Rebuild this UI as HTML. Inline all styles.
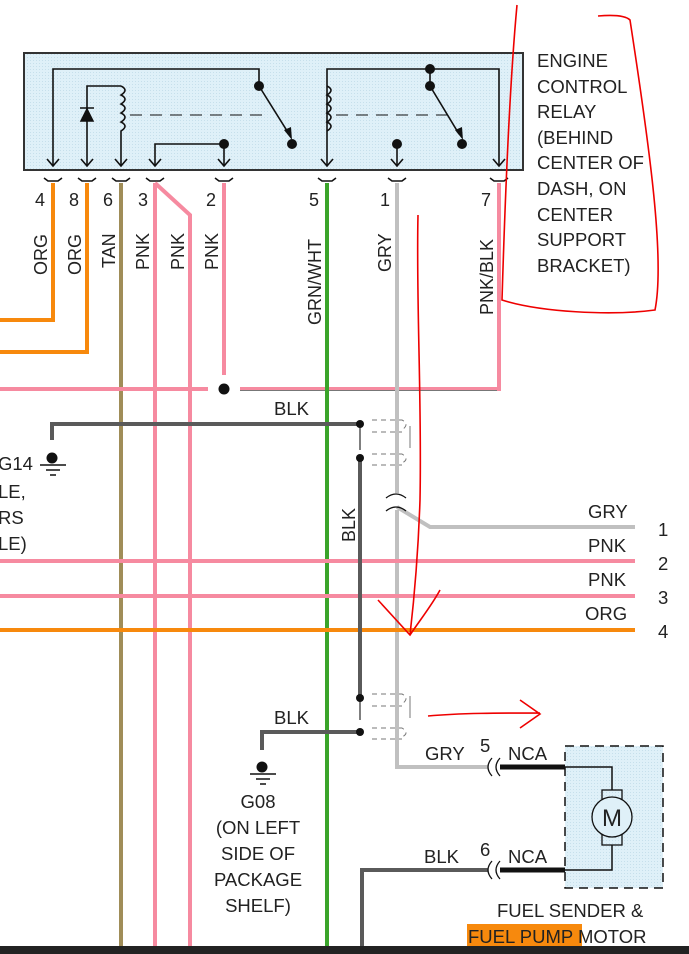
<!DOCTYPE html><html><head><style>body{margin:0;background:#fff}svg{display:block}text{font-family:"Liberation Sans",sans-serif;fill:#222}</style></head><body>
<svg width="689" height="954" viewBox="0 0 689 954">
<defs><pattern id="d" width="3" height="3" patternUnits="userSpaceOnUse"><rect width="3" height="3" fill="#dff0f8"/><rect width="1" height="1" fill="#c6dfeb"/></pattern></defs>
<rect x="24" y="53" width="499" height="117" fill="url(#d)" stroke="#333" stroke-width="2"/>
<g stroke="#111" stroke-width="1.6" fill="none">
<path d="M53,166V69H259V86"/><path d="M259,86L289,134"/><path d="M87,166V86H121"/>
<path d="M121,86q8,4 0,9q8,4 0,9q8,4 0,9q8,4 0,9q8,4 0,9V166"/>
<path d="M155,166V144H224V166"/><path d="M327,166V69H499V166"/><path d="M327,86q8,4 0,9q8,4 0,9q8,4 0,9q8,4 0,9q8,4 0,9"/>
<path d="M430,69V86M430,86L459,134"/><path d="M397,144V166"/>
<path d="M130,115H270M336,115H450" stroke-dasharray="12,8" stroke-width="1"/>
<path d="M47,159l6,7l6,-7M81,159l6,7l6,-7M115,159l6,7l6,-7M149,159l6,7l6,-7M218,159l6,7l6,-7M321,159l6,7l6,-7M391,159l6,7l6,-7M493,159l6,7l6,-7"/>
<path d="M44,178l4,3h10l4,-3M78,178l4,3h10l4,-3M112,178l4,3h10l4,-3M146,178l4,3h10l4,-3M215,178l4,3h10l4,-3M318,178l4,3h10l4,-3M388,178l4,3h10l4,-3M490,178l4,3h10l4,-3"/>
</g>
<path d="M80,108h14M81,121l6,-12l6,12z" fill="#111" stroke="#111" stroke-width="1.5"/>
<g fill="#111"><circle cx="259" cy="86" r="5"/><circle cx="292" cy="144" r="5"/><circle cx="224" cy="144" r="5"/><circle cx="430" cy="69" r="5"/><circle cx="430" cy="86" r="5"/><circle cx="397" cy="144" r="5"/><circle cx="462" cy="144" r="5"/><path d="M284,130l8,10l-1,-13z"/><path d="M455,130l8,10l-1,-13z"/></g>
<g font-size="18" text-anchor="middle"><text x="40" y="206">4</text><text x="74" y="206">8</text><text x="108" y="206">6</text><text x="143" y="206">3</text><text x="211" y="206">2</text><text x="314" y="206">5</text><text x="385" y="206">1</text><text x="486" y="206">7</text></g>
<g font-size="18"><text transform="translate(47,275) rotate(-90)">ORG</text><text transform="translate(81,275) rotate(-90)">ORG</text><text transform="translate(115,268) rotate(-90)">TAN</text><text transform="translate(149,270) rotate(-90)">PNK</text><text transform="translate(184,270) rotate(-90)">PNK</text><text transform="translate(218,270) rotate(-90)">PNK</text><text transform="translate(321,325) rotate(-90)">GRN/WHT</text><text transform="translate(391,272) rotate(-90)">GRY</text><text transform="translate(493,315) rotate(-90)">PNK/BLK</text><text transform="translate(355,542) rotate(-90)">BLK</text></g>
<g fill="none" stroke-width="4">
<path d="M53,183V320H0" stroke="#f7890d"/><path d="M87,183V352H0" stroke="#f7890d"/>
<path d="M121,183V954" stroke="#a08d58"/>
<path d="M155,183V954M155,183L190,215V954" stroke="#f68aa0"/>
<path d="M224,183V375M0,389H208" stroke="#f68aa0"/>
<path d="M240,389H499V183" stroke="#f68aa0"/><path d="M240,390.5H497" stroke="#777" stroke-width="1"/>
<path d="M327,183V954" stroke="#3aa42a"/>
<path d="M397,183V493M397,510V767H488" stroke="#c0c0c0"/>
<path d="M397,507L430,527H635" stroke="#c0c0c0"/>
<path d="M0,561H635M0,596H635" stroke="#f68aa0"/><path d="M0,630H635" stroke="#f7890d"/>
<path d="M52,440V424H360" stroke="#5a5a5a"/><path d="M360,458V698" stroke="#5a5a5a"/>
<path d="M360,732H262V750" stroke="#5a5a5a"/><path d="M488,870H362V954" stroke="#5a5a5a"/>
<path d="M500,767H565M500,870H565" stroke="#111" stroke-width="5"/>
</g>
<path d="M360,424V450M360,698V720" stroke="#555" stroke-width="1.5"/>
<g fill="#111"><circle cx="224" cy="389" r="5.5"/><circle cx="360" cy="424" r="4"/><circle cx="360" cy="458" r="4"/><circle cx="360" cy="698" r="4"/><circle cx="360" cy="732" r="4"/><circle cx="52" cy="458" r="5.5"/><circle cx="262" cy="767" r="5.5"/></g>
<path d="M40,465h26M46,470h14M50,475h6M250,774h26M256,779h14M260,784h6" stroke="#111" stroke-width="1.5"/>
<g fill="none" stroke="#777" stroke-width="1" stroke-dasharray="5,4"><path d="M372,420h30q8,4 0,10M372,432h30"/><path d="M372,454h30q8,5 0,9M372,465h30"/><path d="M372,694h30q8,4 0,10M372,706h30"/><path d="M372,728h30q8,5 0,9M372,739h30"/></g>
<path d="M410,426v22M410,696v22" stroke="#777"/>
<path d="M386,498q10,-8 20,0M386,511q10,-8 20,0" stroke="#111" fill="none" stroke-width="1.3"/>
<g stroke="#111" fill="none" stroke-width="1.3"><path d="M492,758q-8,9 0,18M500,758q-8,9 0,18M492,861q-8,9 0,18M500,861q-8,9 0,18"/></g>
<rect x="565" y="746" width="98" height="142" fill="url(#d)" stroke="#111" stroke-width="1.5" stroke-dasharray="9,6"/>
<path d="M565,767H612V790M612,845V870H565" stroke="#111" fill="none" stroke-width="1.5"/>
<rect x="602" y="790" width="20" height="55" fill="none" stroke="#111" stroke-width="1.3"/>
<circle cx="612" cy="817" r="20" fill="#dff0f8" stroke="#111" stroke-width="1.3"/>
<text x="612" y="826" font-size="24" text-anchor="middle">M</text>
<g font-size="18.5"><text x="274" y="415">BLK</text><text x="274" y="724">BLK</text><text x="425" y="760">GRY</text><text x="424" y="863">BLK</text><text x="480" y="752">5</text><text x="480" y="856">6</text><text x="508" y="760">NCA</text><text x="508" y="863">NCA</text>
<text x="588" y="518">GRY</text><text x="588" y="552">PNK</text><text x="588" y="586">PNK</text><text x="585" y="620">ORG</text>
<text x="658" y="536">1</text><text x="658" y="570">2</text><text x="658" y="604">3</text><text x="658" y="638">4</text>
<text x="-2" y="470">G14</text><text x="-2" y="498">LE,</text><text x="-2" y="524">RS</text><text x="-2" y="550">LE)</text>
<g text-anchor="middle"><text x="258" y="808">G08</text><text x="258" y="834">(ON LEFT</text><text x="258" y="860">SIDE OF</text><text x="258" y="886">PACKAGE</text><text x="258" y="912">SHELF)</text></g>
<text x="497" y="917">FUEL SENDER &amp;</text><rect x="467" y="924" width="115" height="22" fill="#f7890d"/><text x="468" y="943">FUEL PUMP MOTOR</text>
<text x="537" y="67">ENGINE</text><text x="537" y="93">CONTROL</text><text x="537" y="118">RELAY</text><text x="537" y="144">(BEHIND</text><text x="537" y="169">CENTER OF</text><text x="537" y="195">DASH, ON</text><text x="537" y="221">CENTER</text><text x="537" y="246">SUPPORT</text><text x="537" y="272">BRACKET)</text></g>
<rect x="0" y="946" width="689" height="8" fill="#222"/>
<g stroke="#e00" stroke-width="1.6" fill="none"><path d="M517,5C510,80 505,200 502,300C540,312 610,316 655,310C665,260 650,150 630,20C625,15 610,15 598,16"/><path d="M418,215C416,300 422,400 420,500C418,560 414,600 410,635M378,600L410,635C420,620 432,605 440,590"/><path d="M428,716C460,713 500,713 540,713M520,700L540,714L520,728"/></g>
</svg></body></html>
